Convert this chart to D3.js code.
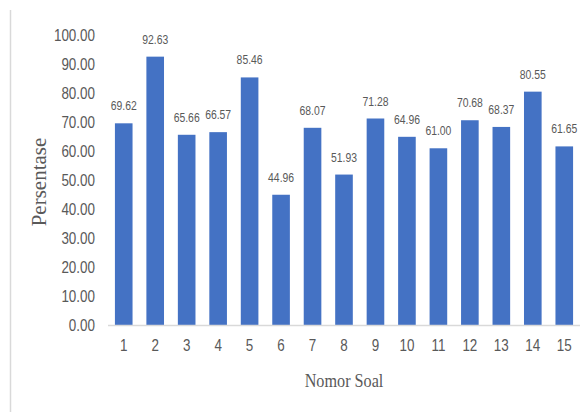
<!DOCTYPE html>
<html>
<head>
<meta charset="utf-8">
<script src="https://cdn.jsdelivr.net/npm/d3@7"></script>
<style>
  html, body { margin: 0; padding: 0; background: #fff; }
  svg { display: block; }
</style>
</head>
<body>
<svg id="chart" width="584" height="412"></svg>
<script>
// Question numbers and the percentage of correct answers for each
const categories = ["1","2","3","4","5","6","7","8","9","10","11","12","13","14","15"];
const values = [69.62, 92.63, 65.66, 66.57, 85.46, 44.96, 68.07, 51.93, 71.28, 64.96, 61.00, 70.68, 68.37, 80.55, 61.65];
const yTicks = [0, 10, 20, 30, 40, 50, 60, 70, 80, 90, 100];

const xTitle = "Nomor Soal";
const yTitle = "Persentase";

const svg = d3.select("#chart");
const plot = { left: 108, right: 580, top: 35.3, bottom: 325 };

const x = d3.scaleBand()
  .domain(categories)
  .range([plot.left, plot.right])
  .paddingInner(0.44)
  .paddingOuter(0.22);

const y = d3.scaleLinear()
  .domain([0, 100])
  .range([plot.bottom, plot.top]);

const textColor = "#595959";
const sansFont = "'Liberation Sans', Arial, sans-serif";
const serifFont = "'Liberation Serif', 'Times New Roman', serif";

// Narrow the glyphs horizontally around each label's own anchor point
function narrow(sel, k) {
  sel.each(function () {
    const t = d3.select(this);
    const tx = +t.attr("x") || 0;
    const ty = +t.attr("y") || 0;
    t.attr("x", 0).attr("y", 0)
      .attr("transform", `translate(${tx},${ty}) scale(${k},1)`);
  });
}

// Left edge of the chart frame
svg.append("line")
  .attr("x1", 10.5).attr("x2", 10.5)
  .attr("y1", 10).attr("y2", 412)
  .attr("stroke", "#d9d9d9").attr("stroke-width", 1.5);

// Y axis: labels only
const yAxis = svg.append("g")
  .attr("transform", `translate(${plot.left},0)`)
  .call(d3.axisLeft(y).tickValues(yTicks).tickFormat(d => d.toFixed(2)).tickSize(0).tickPadding(13));
yAxis.select(".domain").remove();
yAxis.selectAll("text")
  .attr("font-family", sansFont)
  .attr("font-size", 16)
  .attr("fill", textColor)
  .attr("dy", "0.35em");
yAxis.selectAll("text").call(narrow, 0.84);

// Bars
svg.append("g")
  .selectAll("rect")
  .data(values)
  .join("rect")
  .attr("x", (d, i) => x(categories[i]))
  .attr("y", d => y(d))
  .attr("width", x.bandwidth())
  .attr("height", d => y(0) - y(d))
  .attr("fill", "#4472C4");

// Baseline
svg.append("line")
  .attr("x1", plot.left).attr("x2", plot.right)
  .attr("y1", y(0) + 0.5).attr("y2", y(0) + 0.5)
  .attr("stroke", "#d9d9d9").attr("stroke-width", 1.5);

// X axis: labels only
const xAxis = svg.append("g")
  .attr("transform", `translate(0,${y(0)})`)
  .call(d3.axisBottom(x).tickSize(0).tickPadding(20));
xAxis.select(".domain").remove();
xAxis.selectAll("text")
  .attr("font-family", sansFont)
  .attr("font-size", 16)
  .attr("fill", textColor)
  .attr("dy", "0.35em");
xAxis.selectAll("text").call(narrow, 0.84);

// Value labels above the bars
svg.append("g")
  .selectAll("text")
  .data(values)
  .join("text")
  .attr("x", (d, i) => x(categories[i]) + x.bandwidth() / 2)
  .attr("y", d => y(d) - 13)
  .attr("text-anchor", "middle")
  .attr("font-family", sansFont)
  .attr("font-size", 13.5)
  .attr("fill", textColor)
  .text(d => d.toFixed(2))
  .call(narrow, 0.77);

// Axis titles
svg.append("text")
  .attr("x", (plot.left + plot.right) / 2)
  .attr("y", 387)
  .attr("text-anchor", "middle")
  .attr("font-family", serifFont)
  .attr("font-size", 18)
  .attr("fill", textColor)
  .text(xTitle)
  .call(narrow, 0.9);

svg.append("text")
  .attr("transform", "translate(46,182) rotate(-90)")
  .attr("text-anchor", "middle")
  .attr("font-family", serifFont)
  .attr("font-size", 21)
  .attr("fill", textColor)
  .text(yTitle);
</script>
</body>
</html>
